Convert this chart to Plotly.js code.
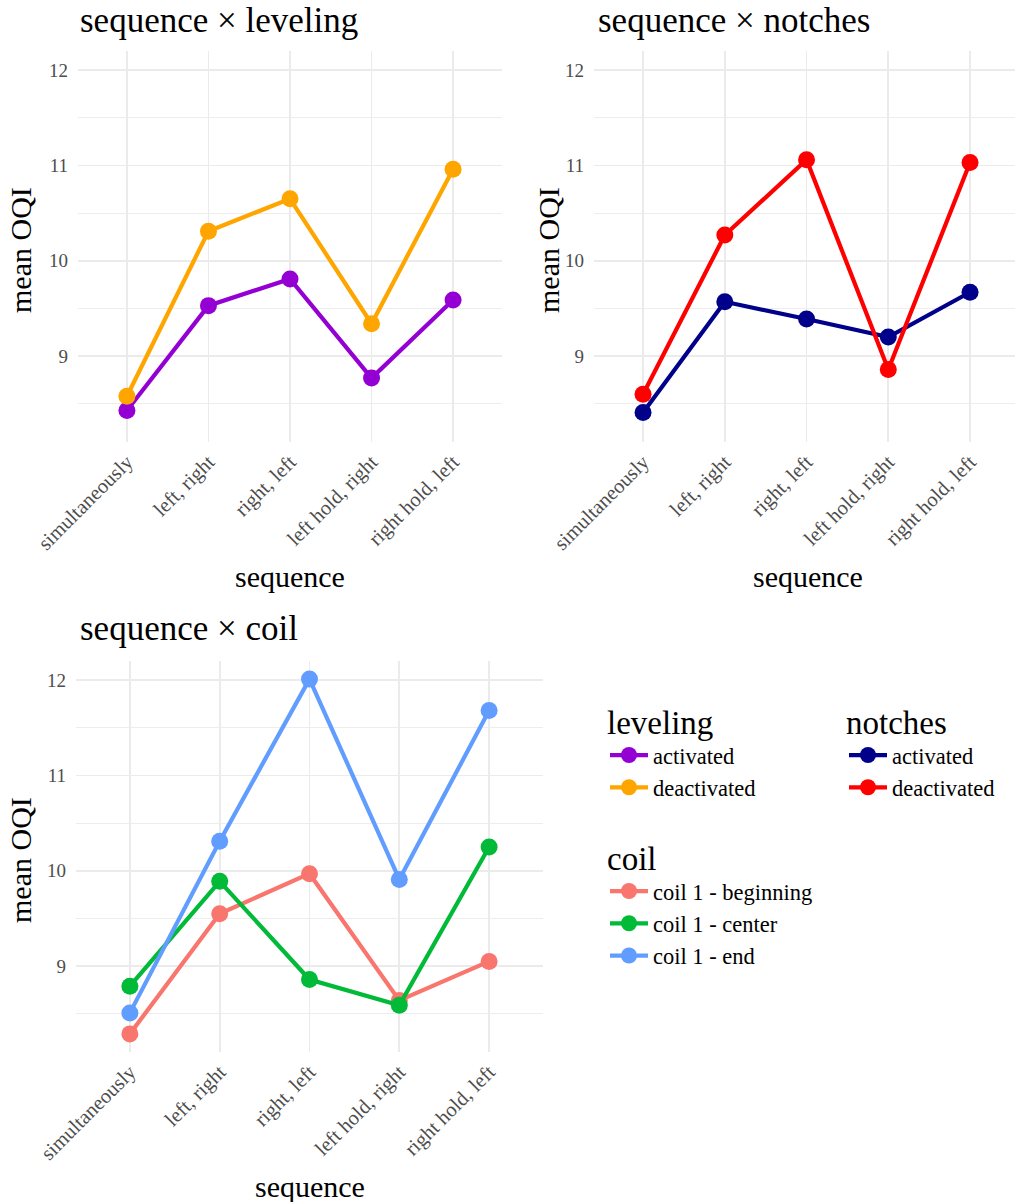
<!DOCTYPE html>
<html><head><meta charset="utf-8">
<script src="https://cdn.plot.ly/plotly-3.0.1.min.js"></script>
<style>html,body{margin:0;padding:0;background:#fff}</style>
</head><body><div id="chart" style="width:1015px;height:1202px"></div>
<script>
const sequences = ['simultaneously','left, right','right, left','left hold, right','right hold, left'];
const levelingActivated   = [8.43, 9.53, 9.81, 8.77, 9.59];
const levelingDeactivated = [8.58, 10.31, 10.65, 9.34, 10.96];
const notchesActivated    = [8.41, 9.57, 9.39, 9.20, 9.67];
const notchesDeactivated  = [8.60, 10.27, 11.06, 8.86, 11.03];
const coilBeginning = [8.29, 9.55, 9.97, 8.64, 9.05];
const coilCenter    = [8.79, 9.89, 8.86, 8.59, 10.25];
const coilEnd       = [8.51, 10.31, 12.01, 9.91, 11.68];
const yTicks = [9, 10, 11, 12];

const W = 1015, H = 1202;
const FONT = 'Liberation Serif';
const px = v => v / W, py = v => 1 - v / H;

function tr(y, name, color, xa, ya, legend) {
  return {x: sequences, y: y, name: name, type: 'scatter', mode: 'lines+markers',
    xaxis: xa, yaxis: ya, legend: legend,
    line: {color: color, width: 4.2}, marker: {color: color, size: 17}};
}
const data = [
  tr(levelingActivated, 'activated', '#9400D3', 'x', 'y', 'legend'),
  tr(levelingDeactivated, 'deactivated', '#FFA500', 'x', 'y', 'legend'),
  tr(notchesActivated, 'activated', '#00008B', 'x2', 'y2', 'legend2'),
  tr(notchesDeactivated, 'deactivated', '#FF0000', 'x2', 'y2', 'legend2'),
  tr(coilBeginning, 'coil 1 - beginning', '#F8766D', 'x3', 'y3', 'legend3'),
  tr(coilCenter, 'coil 1 - center', '#00BA38', 'x3', 'y3', 'legend3'),
  tr(coilEnd, 'coil 1 - end', '#619CFF', 'x3', 'y3', 'legend3')
];

const GRID = '#EBEBEB';
function xax(domain, range) {
  return {domain: domain, type: 'category', range: range, showgrid: true, gridcolor: GRID, gridwidth: 1.7,
    zeroline: false, showline: false, ticks: '', tickangle: -45,
    tickfont: {family: FONT, size: 20.5, color: '#4D4D4D'}, ticklabelstandoff: 3, fixedrange: true};
}
function yax(domain, anchor) {
  return {domain: domain, anchor: anchor, range: [8.10, 12.20], tickvals: yTicks, ticktext: yTicks.map(String),
    showgrid: true, gridcolor: GRID, gridwidth: 1.7, zeroline: false, showline: false, ticks: '',
    minor: {dtick: 0.5, tick0: 0, showgrid: true, gridcolor: GRID, gridwidth: 0.9},
    tickfont: {family: FONT, size: 19, color: '#4D4D4D'}, ticklabelstandoff: 9, fixedrange: true};
}

function ann(text, x, y, size, opts) {
  return Object.assign({text: text, xref: 'paper', yref: 'paper', x: px(x), y: py(y), showarrow: false,
    xanchor: 'center', yanchor: 'middle', font: {family: FONT, size: size, color: '#000'}}, opts || {});
}

const legendBase = (x, y, title) => ({x: px(x), y: py(y), xanchor: 'left', yanchor: 'top',
  title: {text: title, font: {family: FONT, size: 33, color: '#000'}},
  font: {family: FONT, size: 22.5, color: '#000'}, bgcolor: 'rgba(0,0,0,0)',
  tracegroupgap: 0, itemwidth: 38});

const layout = {
  width: W, height: H, margin: {l: 0, r: 0, t: 0, b: 0},
  paper_bgcolor: '#fff', plot_bgcolor: '#fff',
  font: {family: FONT},
  xaxis: xax([px(78), px(502)], [-0.6, 4.6]),
  yaxis: yax([py(442), py(51)], 'x'),
  xaxis2: Object.assign(xax([px(594), 1], [-0.6, 4.55]), {anchor: 'y2'}),
  yaxis2: yax([py(442), py(51)], 'x2'),
  xaxis3: Object.assign(xax([px(76), px(543)], [-0.6, 4.6]), {anchor: 'y3'}),
  yaxis3: yax([py(1052), py(661)], 'x3'),
  legend: legendBase(605, 691, 'leveling'),
  legend2: legendBase(844, 691, 'notches'),
  legend3: legendBase(605, 827, 'coil'),
  annotations: [
    ann('sequence × leveling', 78, 21, 35, {xanchor: 'left'}),
    ann('sequence × notches', 596, 21, 35, {xanchor: 'left'}),
    ann('sequence × coil', 78, 628, 35, {xanchor: 'left'}),
    ann('mean OQI', 20, 250, 30, {textangle: -90}),
    ann('mean OQI', 548, 250, 30, {textangle: -90}),
    ann('mean OQI', 20, 860, 30, {textangle: -90}),
    ann('sequence', 290, 576, 30),
    ann('sequence', 808, 576, 30),
    ann('sequence', 310, 1186, 30)
  ]
};

Plotly.newPlot('chart', data, layout, {displayModeBar: false, staticPlot: true});
</script></body></html>
